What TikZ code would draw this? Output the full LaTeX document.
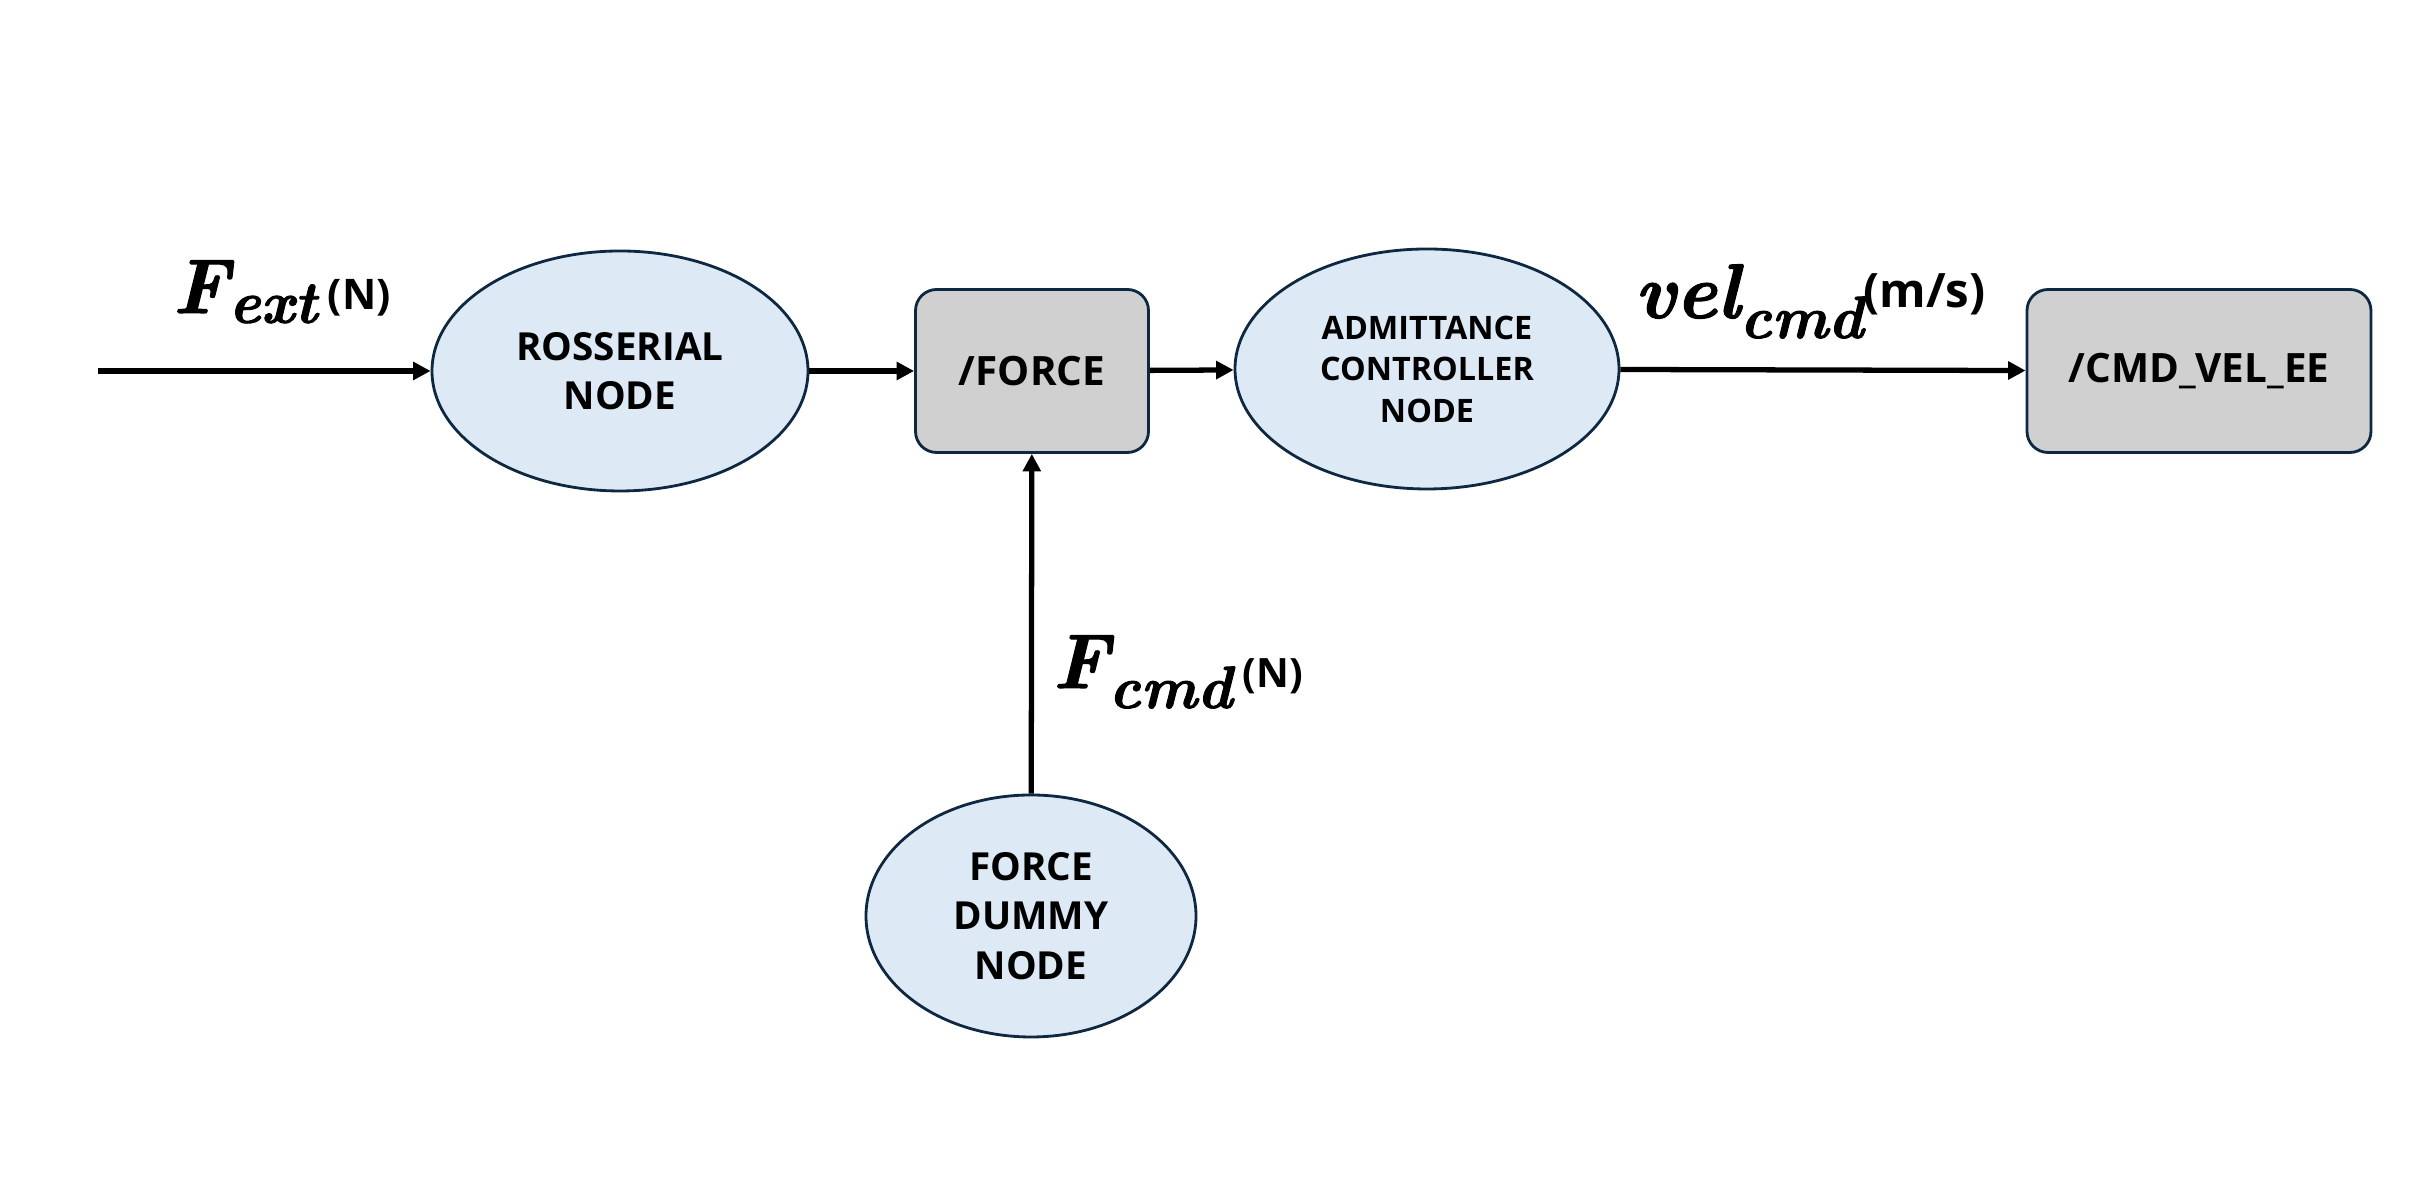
\documentclass[tikz,border=0pt]{standalone}
\usepackage{amsmath,amssymb}
\usepackage{fontspec}
\setmainfont{Open Sans}
\newfontfamily\lmfont[BoldItalicFeatures={FakeBold=1.5}]{Latin Modern Roman}
\usetikzlibrary{arrows.meta,shapes.geometric}
\definecolor{nodeblue}{HTML}{DDEAF6}
\definecolor{nodeedge}{HTML}{0E2841}
\definecolor{topicgray}{HTML}{D0D0D0}
% bold italic symbol with a lowered subscript
\newcommand{\symlab}[3]{{\lmfont\bfseries\itshape\fontsize{22}{26}\selectfont #1\raisebox{-#3}{\fontsize{17}{20}\selectfont #2}}}
\newcommand{\unitlab}[3]{\raisebox{#2}{\fontsize{#3}{15}\selectfont\bfseries #1}}

\begin{document}
\begin{tikzpicture}[
  rosnode/.style={ellipse,draw=nodeedge,fill=nodeblue,line width=0.8pt,inner sep=0pt,align=center,font=\bfseries\fontsize{11}{14}\selectfont},
  topic/.style={rectangle,rounded corners=6pt,draw=nodeedge,fill=topicgray,line width=0.8pt,inner sep=0pt,align=center,font=\bfseries\fontsize{11.5}{14}\selectfont},
  flow/.style={line width=1.5pt,-{Triangle[length=5pt,width=5pt]}},
  siglab/.style={inner sep=0pt,anchor=base west}
]
\useasboundingbox (0,0) rectangle (24.12,12.04);

% ROS nodes
\node[rosnode,minimum width=3.76cm,minimum height=2.40cm] (ross) at (6.20,8.33) {ROSSERIAL\\NODE};
\node[rosnode,minimum width=3.84cm,minimum height=2.40cm,font=\bfseries\fontsize{9.2}{11.8}\selectfont] (adm) at (14.27,8.35) {ADMITTANCE\\CONTROLLER\\NODE};
\node[rosnode,minimum width=3.30cm,minimum height=2.42cm] (dummy) at (10.31,2.88) {FORCE\\DUMMY\\NODE};

% Topics
\node[topic,minimum width=2.33cm,minimum height=1.63cm] (force) at (10.32,8.33) {/FORCE};
\node[topic,minimum width=3.44cm,minimum height=1.63cm] (cmdvel) at (21.99,8.33) {/CMD\_VEL\_EE};

% Connections
\coordinate (ext) at (0.98,8.33);
\draw[flow] (ext) -- (ross);
\draw[flow] (ross) -- (force);
\draw[flow] (force) -- (adm);
\draw[flow] (adm) -- (cmdvel);
\draw[flow] (dummy) -- (force);

% Signal labels
\node[siglab] (fext) at (1.72,8.91) {\symlab{F}{ext}{2.8pt}\hspace{3pt}\unitlab{(N)}{1pt}{12}};
\node[siglab] (velcmd) at (16.34,8.86) {\symlab{vel}{cmd}{5.7pt}\unitlab{(m/s)}{3pt}{13.5}};
\node[siglab] (fcmd) at (10.52,5.16) {\symlab{F}{cmd}{5.7pt}\hspace{3pt}\unitlab{(N)}{0pt}{11.5}};
\end{tikzpicture}
\end{document}
